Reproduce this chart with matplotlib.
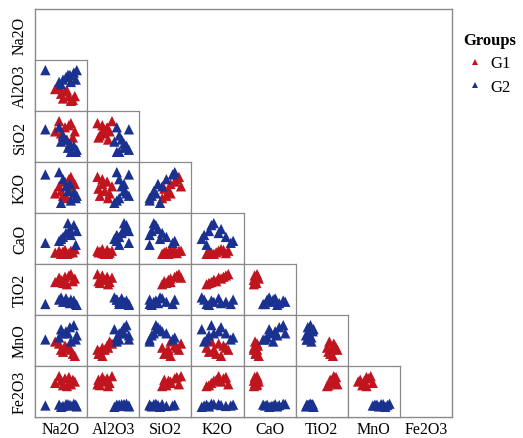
import matplotlib
matplotlib.use("Agg")
import matplotlib.pyplot as plt
from matplotlib.lines import Line2D
import pandas as pd

# oxide composition (wt%) for 21 samples, first 10 in G1, last 11 in G2
oxides = ["Na2O", "Al2O3", "SiO2", "K2O", "CaO", "TiO2", "MnO", "Fe2O3"]
groups = ["G1"] * 10 + ["G2"] * 11

na2o = [0.70, 0.90, 1.00, 1.10, 1.20, 1.40, 1.50, 1.60, 1.70, 1.30,
        0.20, 0.90, 1.10, 1.25, 1.45, 1.65, 1.80, 1.50, 1.00, 1.75, 1.35]
al2o3 = [14.5, 15.0, 13.5, 12.5, 14.0, 13.0, 12.0, 12.2, 13.0, 14.2,
         18.5, 16.0, 16.5, 17.0, 17.5, 18.0, 18.5, 16.0, 15.5, 16.5, 17.5]
sio2 = [63, 68, 62, 61, 65, 66, 67, 60, 63, 59,
        64, 65, 61, 59, 57, 56, 54, 53, 58, 53, 55]
k2o = [1.8, 2.1, 1.9, 1.7, 2.3, 2.4, 2.5, 2.0, 2.2, 1.6,
       2.6, 2.7, 2.4, 2.1, 2.2, 1.8, 1.7, 1.5, 1.4, 1.6, 1.9]
cao = [1.5, 2.0, 1.2, 1.8, 2.2, 1.4, 2.0, 1.6, 2.4, 1.2,
       4.0, 4.5, 5.5, 6.5, 7.5, 8.5, 7.0, 6.0, 5.0, 3.5, 9.0]
tio2 = [1.20, 1.30, 1.25, 1.18, 1.32, 1.35, 1.38, 1.22, 1.28, 1.15,
        0.70, 0.80, 0.75, 0.83, 0.72, 0.78, 0.68, 0.80, 0.85, 0.70, 0.75]
mno = [0.100, 0.090, 0.060, 0.050, 0.080, 0.070, 0.060, 0.040, 0.030, 0.070,
       0.110, 0.120, 0.140, 0.150, 0.170, 0.180, 0.130, 0.100, 0.160, 0.110, 0.140]
fe2o3 = [8.5, 10.0, 9.0, 8.0, 9.5, 9.8, 8.2, 9.2, 8.8, 7.8,
         3.5, 3.7, 3.4, 3.8, 3.6, 3.9, 3.3, 3.5, 3.2, 3.7, 3.8]

df = pd.DataFrame({"Group": groups, "Na2O": na2o, "Al2O3": al2o3, "SiO2": sio2,
                   "K2O": k2o, "CaO": cao, "TiO2": tio2, "MnO": mno, "Fe2O3": fe2o3})

colors = {"G1": "#c0141e", "G2": "#1b3190"}
frame_col = "#8a8a8a"

plt.rcParams["font.family"] = ["Liberation Serif", "DejaVu Serif"]

fig = plt.figure(figsize=(5.23, 4.39), dpi=100)

# outer frame of the matrix
L, R = 35 / 523, 452 / 523
B, T = 1 - 418 / 439, 1 - 10 / 439
frame = fig.add_axes([L, B, R - L, T - B])
frame.set_xticks([])
frame.set_yticks([])
for s in frame.spines.values():
    s.set_color(frame_col)
    s.set_linewidth(1.0)

n = len(oxides)
cw = (R - L) / n
ch = (T - B) / n

# wide padding keeps each cloud in the middle of its cell
lims = {}
for v in oxides:
    lo, hi = df[v].min(), df[v].max()
    pad = 0.33 * (hi - lo)
    lims[v] = (lo - pad, hi + pad)

for i, yv in enumerate(oxides):
    for j, xv in enumerate(oxides[:i]):
        ax = fig.add_axes([L + j * cw, T - (i + 1) * ch, cw, ch])
        for g in ["G1", "G2"]:
            sub = df[df.Group == g]
            ax.scatter(sub[xv], sub[yv], marker="^", s=55, color=colors[g],
                       edgecolors="none", zorder=3)
        ax.set_xlim(lims[xv])
        ax.set_ylim(lims[yv])
        ax.set_xticks([])
        ax.set_yticks([])
        for s in ax.spines.values():
            s.set_color(frame_col)
            s.set_linewidth(0.9)

# variable names along left side and bottom
for k, v in enumerate(oxides):
    fig.text(20 / 523, T - (k + 0.5) * ch, v, rotation=90, ha="center",
             va="center", fontsize=11.5)
    fig.text(L + (k + 0.5) * cw, 1 - 430 / 439, v, ha="center", va="center",
             fontsize=11.5)

handles = [Line2D([], [], marker="^", linestyle="none", markersize=5,
                  color=colors[g], markeredgewidth=0) for g in ["G1", "G2"]]
leg = fig.legend(handles, ["G1", "G2"], title="Groups", loc="upper left",
                 bbox_to_anchor=(448 / 523, 1 - 18 / 439), frameon=False,
                 fontsize=12, title_fontsize=12, labelspacing=0.45,
                 handlelength=0.8, handletextpad=0.5)
leg.get_title().set_fontweight("bold")

fig.savefig("out.png", dpi=100)
